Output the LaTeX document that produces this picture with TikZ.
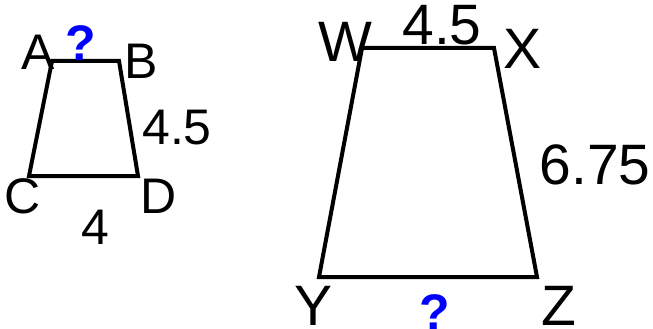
\documentclass[tikz,border=0pt]{standalone}
\usepackage{fontspec}
\setmainfont{Liberation Sans}
\usepackage{tikz}
\usetikzlibrary{positioning}
\definecolor{qblue}{HTML}{0000FF}

\tikzset{
  side/.style={line width=4pt, draw=black},
  biglbl/.style={anchor=base, inner sep=0pt, font=\fontsize{57}{60}\selectfont},
  smalllbl/.style={anchor=base, inner sep=0pt, font=\fontsize{50}{54}\selectfont},
  qmark/.style={anchor=base, inner sep=0pt, text=qblue, font=\fontsize{50}{54}\selectfont\bfseries}
}

\begin{document}
\begin{tikzpicture}[x=1pt, y=-1pt]
  \useasboundingbox (0,0) rectangle (653,329);

  % Small trapezoid
  \coordinate (A) at (52,61);
  \coordinate (B) at (119,61);
  \coordinate (D) at (138,176);
  \coordinate (C) at (29,176);
  \draw[side] (A) -- (B) -- (D) -- (C) -- cycle;

  % Large trapezoid
  \coordinate (W) at (362,48);
  \coordinate (X) at (494,48);
  \coordinate (Z) at (537,277);
  \coordinate (Y) at (319,277);
  \draw[side] (W) -- (X) -- (Z) -- (Y) -- cycle;

  % Vertex labels
  \node[smalllbl] (lA) at (38,70) {A};
  \node[smalllbl] (lB) at (141,78) {B};
  \node[smalllbl] (lC) at (23,213) {C};
  \node[smalllbl] (lD) at (159,213) {D};
  \node[biglbl] (lW) at (345,62) {W};
  \node[biglbl] (lX) at (523,68) {X};
  \node[biglbl] (lY) at (314,325) {Y};
  \node[biglbl] (lZ) at (559,325) {Z};

  % Side lengths
  \node[smalllbl] (sBD) at (177,144) {4.5};
  \node[smalllbl] (sCD) at (95,244) {4};
  \node[biglbl] (sWX) at (442,45) {4.5};
  \node[biglbl] (sXZ) at (595,184) {6.75};

  % Unknowns
  \node[qmark] (qAB) at (81,60) {?};
  \node[qmark] (qYZ) at (435,329) {?};
\end{tikzpicture}
\end{document}
